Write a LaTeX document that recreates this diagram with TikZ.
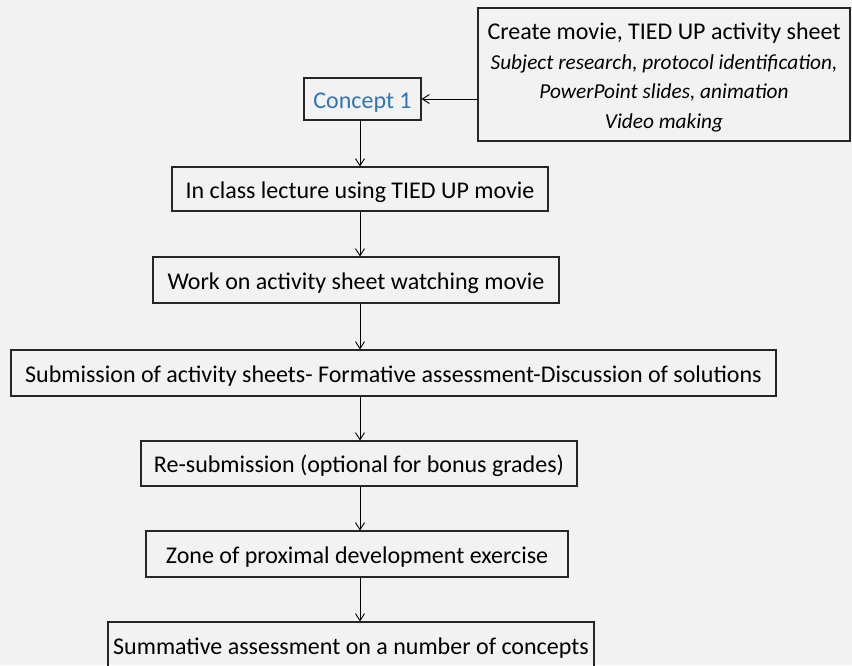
\documentclass[tikz,border=0pt]{standalone}
\usepackage{fontspec}
\setmainfont{Carlito}
\usetikzlibrary{arrows.meta}
\definecolor{bg}{HTML}{F2F2F2}
\definecolor{conceptblue}{HTML}{2E75B6}

\begin{document}
\begin{tikzpicture}[x=1pt, y=-1pt, >={Straight Barb[length=7pt,width=9pt]},
  stage/.style={draw=black!85, line width=1.1pt, inner sep=0pt, text height=19pt, text depth=1pt, font=\fontsize{24}{28}\selectfont},
  flow/.style={->, line width=0.9pt}]
  \fill[bg] (0,0) rectangle (852,665);
  \useasboundingbox (0,0) rectangle (852,665);
  \coordinate (spine) at (360,0);
  % preparation box feeding the first concept
  \node[draw=black!85, line width=1.1pt, inner sep=0pt, minimum width=372, minimum height=133, align=center, font=\fontsize{21.3}{29.5}\selectfont] (make) at (664,74.5)
    {{\fontsize{24}{29.5}\selectfont\rule{0pt}{23pt}Create movie, TIED UP activity sheet}\\ \itshape Subject research, protocol identification,\\ \itshape PowerPoint slides, animation\\ \itshape Video making};
  \node[stage, minimum width=117, minimum height=42, text=conceptblue] (concept) at (362.5,99) {Concept 1};
  \node[stage, minimum width=376, minimum height=44] (lecture) at (360,189) {In class lecture using TIED UP movie};
  \node[stage, minimum width=406, minimum height=46] (work) at (356,280) {Work on activity sheet watching movie};
  \node[stage, minimum width=765, minimum height=46] (subm) at (393.5,373) {Submission of activity sheets- Formative assessment-Discussion of solutions};
  \node[stage, minimum width=436, minimum height=45] (resub) at (359,463.5) {Re-submission (optional for bonus grades)};
  \node[stage, minimum width=422, minimum height=46] (zone) at (357,554) {Zone of proximal development exercise};
  \node[stage, minimum width=486, minimum height=46] (summ) at (351,645) {Summative assessment on a number of concepts};
  \draw[flow] (make.west |- concept.east) -- (concept.east);
  \foreach \a/\b in {concept/lecture, lecture/work, work/subm, subm/resub, resub/zone, zone/summ}
    \draw[flow] (spine |- \a.south) -- (spine |- \b.north);
\end{tikzpicture}
\end{document}
